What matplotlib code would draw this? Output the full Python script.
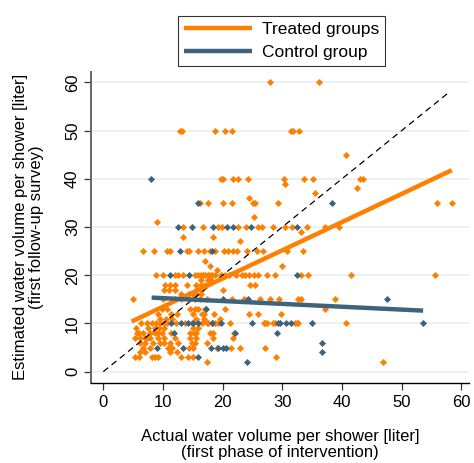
import numpy as np
import matplotlib
matplotlib.use("Agg")
import matplotlib.pyplot as plt

plt.rcParams['font.family'] = ['Liberation Sans', 'DejaVu Sans']

# treated households: (actual volume, estimated volume) grouped by estimated value
treated_rows = {
    60: [27.9, 36.2],
    50: [12.8, 13.2, 18.7, 20.4, 21.5, 31.4, 31.8, 32.8],
    45: [40.6],
    40: [19.7, 20.1, 21.8, 22.6, 24.3, 30.3, 33.7, 35.2, 43.0, 43.6],
    39: [30.5],
    38: [42.5],
    37: [35.5],
    36: [24.5],
    35: [16.2, 17.6, 20.1, 21.5, 25.1, 25.5, 29.3, 56.0, 58.5],
    32: [25.2],
    31: [9.0],
    30: [13.4, 16.7, 19.2, 19.9, 22.5, 23.9, 25.9, 26.6, 28.4, 30.4, 31.6, 34.2, 37.1, 39.5],
    29: [33.1],
    28: [13.3, 18.4],
    27: [22.9],
    25: [6.6, 8.5, 10.6, 11.2, 14.0, 14.4, 15.9, 16.9, 17.8, 18.7, 20.3, 20.9, 21.8, 22.4,
         24.0, 25.7, 26.7, 30.8, 33.4],
    23: [17.0],
    22: [17.9, 29.9],
    21: [19.0],
    20: [8.9, 10.0, 12.0, 12.6, 13.3, 15.4, 15.9, 16.3, 16.7, 17.1, 17.5, 17.9, 18.3, 18.8,
         19.8, 20.4, 21.1, 22.3, 23.2, 23.7, 24.5, 25.3, 26.0, 27.4, 28.8, 33.1, 34.3, 41.5, 55.6],
    19: [16.3, 17.5, 18.0],
    18: [10.3, 11.2, 12.0, 14.1, 15.6, 16.4, 17.0, 24.6, 25.4],
    17: [10.1, 11.0, 12.0, 15.6, 16.4, 20.1],
    16: [13.1, 14.4, 15.0, 15.6, 16.4],
    15: [4.9, 10.0, 12.0, 13.0, 15.4, 16.2, 17.4, 21.5, 23.5, 26.2, 27.9, 29.5, 32.7, 33.1, 38.9],
    13: [9.8, 10.6, 14.5, 15.3, 15.9, 17.0, 20.4, 37.1],
    12: [9.2, 11.4, 12.4, 15.1, 16.5, 16.9, 18.6, 24.5, 26.0, 29.7],
    11: [9.5, 10.5, 11.5, 15.6, 16.8, 19.5],
    10: [6.4, 7.3, 8.1, 8.9, 9.5, 10.1, 10.6, 12.2, 13.7, 14.8, 16.5, 17.3, 17.6, 18.4, 18.7,
         19.3, 21.2, 26.9, 27.1, 27.4, 28.5, 28.8, 32.1, 32.5, 32.7, 40.6],
    9: [5.5, 7.5, 8.6, 9.4, 10.2, 15.1, 15.9],
    8: [5.6, 5.9, 6.7, 7.8, 8.7, 9.2, 9.8, 11.3, 14.5, 15.2, 15.6, 17.9, 18.4, 21.9],
    7: [5.3, 6.1, 7.0, 7.3, 7.8, 9.2, 10.1, 12.0, 14.5, 15.6, 18.4, 21.8],
    6: [6.1, 7.0, 8.4, 9.5, 10.1, 11.2, 12.6, 14.8, 15.4, 17.3],
    5: [6.7, 7.8, 10.9, 11.5, 14.4, 15.1, 19.0, 21.4, 22.9, 27.1],
    4: [6.1, 7.0, 11.2, 12.4],
    3: [5.3, 5.9, 8.1, 8.7, 9.2, 13.1, 14.2, 15.1, 28.9],
    2: [17.3, 46.8],
}

control_rows = {
    40: [8.0],
    35: [15.9, 38.3],
    30: [12.6, 14.9, 18.4, 20.7, 21.8, 24.7, 32.5],
    25: [12.8, 18.2],
    20: [11.2, 14.4, 32.4],
    15: [20.1, 24.3, 47.6],
    13: [17.2],
    10: [11.3, 13.0, 14.2, 15.1, 15.9, 18.2, 19.8, 24.9, 29.3, 29.6, 30.7, 31.4, 35.0, 53.6],
    8: [11.8, 22.1, 29.1],
    6: [36.7],
    5: [9.0, 13.4, 18.0, 19.3, 20.1, 20.5],
    4: [36.6],
    3: [15.8],
    2: [24.0],
}

# linear fits (intercept, slope) and x range covered by each group
treated_fit = (7.62, 0.585)
treated_range = (4.75, 58.4)
control_fit = (15.83, -0.0593)
control_range = (8.1, 53.6)


def flatten(rows):
    xs, ys = [], []
    for y, xvals in rows.items():
        xs += xvals
        ys += [y] * len(xvals)
    return np.array(xs), np.array(ys)


orange = '#FF8000'
navy = '#3E647D'

fig = plt.figure(figsize=(4.74, 4.63), dpi=100)
ax = fig.add_axes([0.192, 0.173, 0.797, 0.672])

for y in range(0, 61, 10):
    ax.axhline(y, color='#E9F0F2', lw=1.3, zorder=0)

tx, ty = flatten(treated_rows)
cx, cy = flatten(control_rows)
ax.scatter(tx, ty, marker='D', s=13, color=orange, lw=0, zorder=2)
ax.scatter(cx, cy, marker='D', s=13, color=navy, lw=0, zorder=3)

ax.plot([0, 58], [0, 58], color='black', lw=0.9, dashes=(5, 3.5), zorder=4)

xr = np.array(treated_range)
ax.plot(xr, treated_fit[0] + treated_fit[1] * xr, color=orange, lw=3.2,
        solid_capstyle='butt', zorder=5, label='Treated groups')
xr = np.array(control_range)
ax.plot(xr, control_fit[0] + control_fit[1] * xr, color=navy, lw=3.2,
        solid_capstyle='butt', zorder=5, label='Control group')

ax.set_xlim(-2.06, 61.25)
ax.set_ylim(-2.34, 62.2)
ax.set_xticks(range(0, 61, 10))
ax.set_yticks(range(0, 61, 10))
ax.tick_params(labelsize=12, length=5, width=0.9, color='#333333')
ax.tick_params(axis='y', pad=3)
for lab in ax.get_yticklabels():
    lab.set_rotation(90)
    lab.set_va('center')
for side in ['top', 'right']:
    ax.spines[side].set_visible(False)
ax.spines['left'].set_color('#666666')
ax.spines['left'].set_linewidth(1.4)
ax.spines['bottom'].set_linewidth(1.0)

ax.set_xlabel('Actual water volume per shower [liter]\n(first phase of intervention)',
              fontsize=12, labelpad=14, linespacing=1.1)
ax.set_ylabel('Estimated water volume per shower [liter]\n(first follow-up survey)',
              fontsize=12, labelpad=15, linespacing=1.1)

leg = fig.legend(loc='upper center', bbox_to_anchor=(0.594, 0.984), fontsize=12.5,
                 frameon=True, fancybox=False, edgecolor='black', handlelength=3.9,
                 handletextpad=0.6, labelspacing=0.45, borderpad=0.35)
leg.get_frame().set_linewidth(0.8)

fig.savefig('out.png', dpi=100)
